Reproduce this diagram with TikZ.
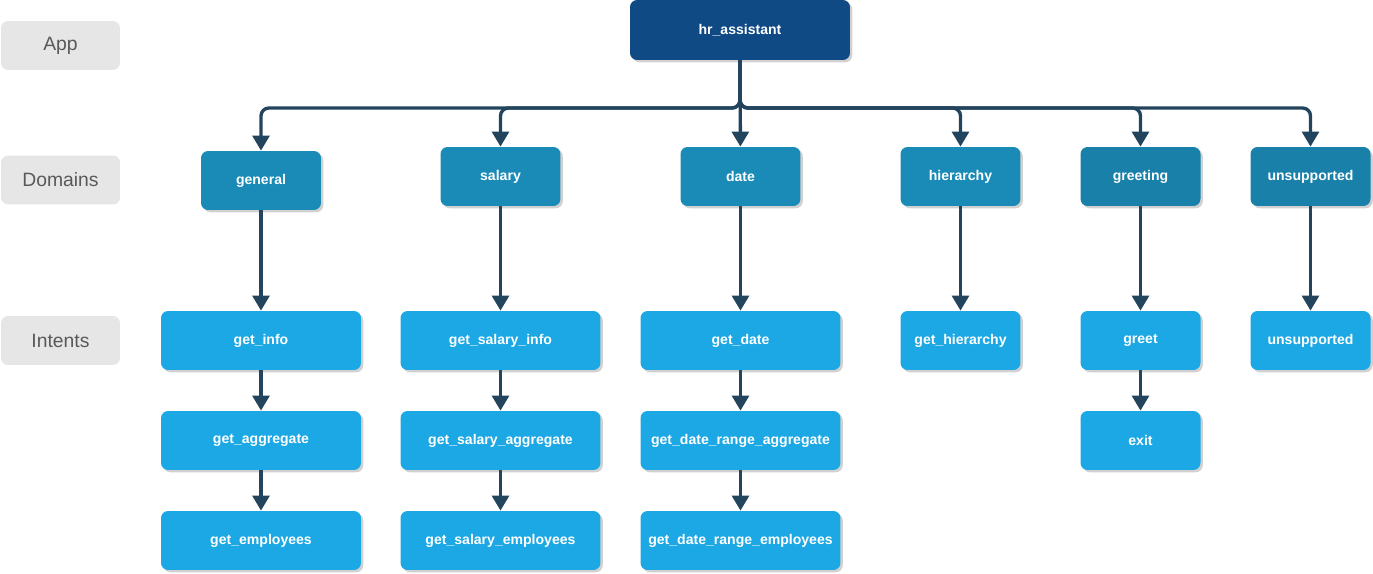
\documentclass[tikz,border=0pt]{standalone}
\usepackage{fontspec}
\setmainfont{Liberation Sans}
\usetikzlibrary{arrows.meta,shadows}

\definecolor{appblue}{HTML}{0F4A85}
\definecolor{domainblue}{HTML}{1A8BB7}
\definecolor{domaindark}{HTML}{1980A9}
\definecolor{intentblue}{HTML}{1BA8E4}
\definecolor{linkcolor}{HTML}{23445D}
\definecolor{levelgray}{HTML}{E6E6E6}
\definecolor{leveltext}{HTML}{595959}

\tikzstyle{box} = [rounded corners=4pt, text=white, align=center,
  font=\fontsize{8}{9}\selectfont\bfseries,
  drop shadow={shadow xshift=1.3pt, shadow yshift=-1.3pt, fill=black, opacity=0.18}]
\tikzstyle{appbox} = [box, fill=appblue, minimum width=4.4cm, minimum height=1.2cm]
\tikzstyle{domainbox} = [box, fill=domainblue, minimum width=2.4cm, minimum height=1.18cm]
\tikzstyle{domaindark} = [domainbox, fill=domaindark]
\tikzstyle{intentbox} = [box, fill=intentblue, minimum width=4cm, minimum height=1.18cm]
\tikzstyle{intentsmall} = [intentbox, minimum width=2.4cm]
\tikzstyle{levelbox} = [rounded corners=4pt, fill=levelgray, text=leveltext,
  minimum width=2.38cm, minimum height=0.98cm, font=\fontsize{11}{13}\selectfont]
\tikzstyle{link} = [draw=linkcolor, line width=1.9pt, rounded corners=4.5pt,
  -{Triangle[length=8.5pt,width=9.5pt]}]

\begin{document}
\begin{tikzpicture}[x=0.02cm, y=-0.02cm]
\useasboundingbox (0,0) rectangle (1373,574);

% level labels
\node[levelbox] (lapp) at (60.5,45.5) {App};
\node[levelbox] (ldomains) at (60.5,180) {Domains};
\node[levelbox] (lintents) at (60.5,340.5) {Intents};

% app
\node[appbox] (hr) at (740,30) {hr\_assistant};
\coordinate (bus) at (740,108);

% domains
\node[domainbox] (general) at (261,180.5) {general};
\node[domainbox] (salary) at (500.5,176.5) {salary};
\node[domainbox] (date) at (740.5,176.5) {date};
\node[domainbox] (hierarchy) at (960.5,176.5) {hierarchy};
\node[domaindark] (greeting) at (1140.5,176.5) {greeting};
\node[domaindark] (unsupported) at (1310.5,176.5) {unsupported};

% intents
\node[intentbox] (info) at (261,340.5) {get\_info};
\node[intentbox] (aggregate) at (261,440.5) {get\_aggregate};
\node[intentbox] (employees) at (261,540.5) {get\_employees};
\node[intentbox] (salinfo) at (500.5,340.5) {get\_salary\_info};
\node[intentbox] (salaggregate) at (500.5,440.5) {get\_salary\_aggregate};
\node[intentbox] (salemployees) at (500.5,540.5) {get\_salary\_employees};
\node[intentbox] (getdate) at (740.5,340.5) {get\_date};
\node[intentbox] (rangeaggregate) at (740.5,440.5) {get\_date\_range\_aggregate};
\node[intentbox] (rangeemployees) at (740.5,540.5) {get\_date\_range\_employees};
\node[intentsmall] (gethierarchy) at (960.5,340.5) {get\_hierarchy};
\node[intentsmall] (greet) at (1140.5,340.5) {greet};
\node[intentsmall] (exit) at (1140.5,440.5) {exit};
\node[intentsmall] (unsupp) at (1310.5,340.5) {unsupported};

% app -> domains
\draw[link] (hr) |- (bus -| general) -- (general);
\draw[link] (hr) |- (bus -| salary) -- (salary);
\draw[link] (hr) -- (date);
\draw[link] (hr) |- (bus -| hierarchy) -- (hierarchy);
\draw[link] (hr) |- (bus -| greeting) -- (greeting);
\draw[link] (hr) |- (bus -| unsupported) -- (unsupported);

% domains -> intents
\draw[link] (general) -- (info);
\draw[link] (info) -- (aggregate);
\draw[link] (aggregate) -- (employees);
\draw[link] (salary) -- (salinfo);
\draw[link] (salinfo) -- (salaggregate);
\draw[link] (salaggregate) -- (salemployees);
\draw[link] (date) -- (getdate);
\draw[link] (getdate) -- (rangeaggregate);
\draw[link] (rangeaggregate) -- (rangeemployees);
\draw[link] (hierarchy) -- (gethierarchy);
\draw[link] (greeting) -- (greet);
\draw[link] (greet) -- (exit);
\draw[link] (unsupported) -- (unsupp);
\end{tikzpicture}
\end{document}
